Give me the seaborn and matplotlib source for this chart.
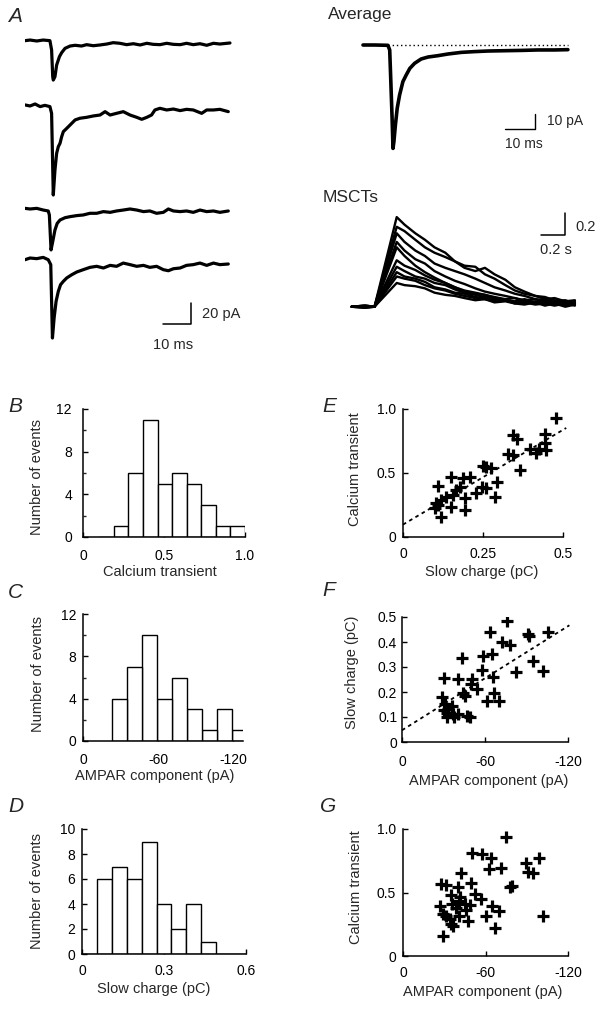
import numpy as np
import pandas as pd
import matplotlib
matplotlib.use("Agg")
import matplotlib.pyplot as plt
import seaborn as sns

# ---------------- data ----------------
# Panel A: four individual EPSCs (time ms, current pA)
tr1_t = [0, 1.8, 4.2, 6.5, 8.9, 9.5, 9.9, 10.1, 10.7, 11.3, 12.3, 13.1, 14.3, 16.1, 17.9, 20.2, 22.0, 24.4,
         26.8, 29.2, 31.5, 33.9, 36.3, 38.7, 41.1, 43.5, 45.8, 48.2, 50.6, 53.0, 55.4, 57.7, 60.1, 62.5,
         64.9, 67.3, 69.6, 73.2]
tr1_i = [0, 0.6, -0.3, 0.6, 0, -8.9, -34.3, -37.5, -34.3, -23.2, -15.2, -11.4, -7.3, -5.1, -4.4, -5.1, -3.8,
         -4.8, -4.1, -3.2, -1.9, -2.5, -3.8, -2.9, -4.1, -2.5, -3.5, -3.8, -2.5, -3.5, -3.8, -2.5, -3.8, -2.9,
         -4.4, -2.5, -3.2, -2.2]
tr2_t = [0, 1.8, 3.6, 5.4, 7.1, 8.9, 9.5, 10.1, 10.7, 11.3, 11.9, 12.5, 13.1, 13.7, 14.9, 16.1, 17.9, 19.6,
         22.0, 24.4, 26.8, 28.6, 30.4, 32.7, 35.1, 37.5, 39.9, 41.7, 43.5, 45.2, 46.4, 48.2, 50.6, 53.0,
         55.4, 57.7, 60.1, 63.1, 64.9, 67.3, 69.6, 72.6]
tr2_i = [1.0, 0, 1.9, -0.6, 0.6, -0.6, -7.0, -84.8, -61.0, -45.1, -38.7, -35.6, -29.2, -24.4, -21.3, -18.1,
         -13.3, -11.7, -10.8, -9.5, -8.6, -5.4, -8.6, -7.0, -5.4, -8.6, -10.8, -12.7, -10.8, -8.6, -3.8,
         -2.2, -3.8, -2.9, -4.4, -3.2, -3.8, -7.0, -3.8, -3.8, -3.2, -5.4]
tr3_t = [0, 1.8, 4.2, 6.5, 8.3, 8.7, 9.3, 9.9, 10.7, 11.5, 12.5, 14.3, 16.1, 18.5, 20.8, 23.2, 25.6, 28.0,
         30.4, 32.7, 35.1, 37.5, 39.9, 42.3, 44.6, 47.0, 49.4, 51.2, 53.0, 55.4, 57.7, 60.1, 62.5, 64.9,
         67.3, 69.6, 72.6]
tr3_i = [0.6, 0, 0.6, -1.0, -1.9, -5.7, -39.0, -31.1, -20.0, -13.7, -10.5, -8.3, -7.3, -6.3, -5.7, -4.1,
         -4.1, -2.5, -3.2, -1.9, -1.0, 0, -1.0, -2.5, -1.9, -4.1, -3.2, 0, -1.9, -2.5, -1.9, -3.2, -1.0,
         -2.5, -1.9, -3.2, -1.9]
tr4_t = [0, 1.8, 4.2, 6.5, 8.3, 9.2, 9.8, 10.4, 11.1, 11.9, 12.7, 13.7, 14.9, 16.7, 18.5, 20.8, 23.2, 25.6,
         28.0, 30.4, 32.7, 35.1, 37.5, 39.9, 42.3, 44.6, 47.0, 49.4, 51.2, 53.0, 55.4, 57.7, 60.1, 62.5,
         64.9, 67.3, 69.6, 72.6]
tr4_i = [-1.6, 0, -0.6, 0.6, -1.6, -6.3, -76.2, -57.1, -41.3, -31.7, -25.4, -22.2, -19.0, -15.9, -13.3,
         -11.1, -8.9, -7.9, -9.5, -7.0, -7.9, -4.8, -6.3, -7.9, -7.0, -8.9, -7.9, -11.1, -12.1, -10.2, -9.5,
         -7.0, -6.3, -4.8, -7.0, -4.8, -6.3, -5.7]

# Average EPSC
avg_t = [0, 3.9, 8.3, 8.9, 9.2, 9.7, 10.0, 10.3, 10.8, 11.4, 12.2, 13.3, 14.4, 15.6, 17.2, 19.4, 21.7,
         25.0, 28.3, 32.8, 37.2, 41.7, 47.2, 52.8, 58.3, 63.9, 68.3]
avg_i = [0, 0, -0.2, -3.3, -20.0, -48.9, -68.9, -64.4, -53.3, -42.2, -33.3, -24.4, -20.0, -15.6, -12.2,
         -9.3, -8.0, -7.1, -6.0, -4.9, -4.4, -4.0, -3.8, -3.6, -3.3, -3.3, -3.1]

# MSCTs (time s, dF/F)
msct_t = [0, 0.11, 0.19, 0.375, 0.44, 0.53, 0.61, 0.69, 0.78, 0.86, 0.94, 1.03, 1.11, 1.19, 1.28, 1.36,
          1.44, 1.53, 1.61, 1.69, 1.78, 1.86]
msct_traces = [
    [0, 0.01, 0, 0.83, 0.76, 0.68, 0.62, 0.55, 0.50, 0.42, 0.38, 0.37, 0.30, 0.26, 0.20, 0.15, 0.12, 0.10, 0.07, 0.08, 0.05, 0.06],
    [0, -0.01, 0, 0.74, 0.70, 0.62, 0.55, 0.50, 0.46, 0.42, 0.36, 0.33, 0.36, 0.30, 0.25, 0.18, 0.14, 0.10, 0.09, 0.06, 0.05, 0.04],
    [0, 0, 0, 0.68, 0.60, 0.52, 0.47, 0.40, 0.36, 0.33, 0.30, 0.26, 0.22, 0.18, 0.15, 0.12, 0.10, 0.07, 0.06, 0.05, 0.06, 0.03],
    [0, 0.01, 0, 0.60, 0.52, 0.44, 0.40, 0.33, 0.28, 0.24, 0.21, 0.17, 0.14, 0.12, 0.10, 0.08, 0.06, 0.07, 0.04, 0.05, 0.03, 0.05],
    [0, 0, 0, 0.55, 0.47, 0.38, 0.32, 0.27, 0.22, 0.18, 0.15, 0.13, 0.11, 0.09, 0.07, 0.08, 0.05, 0.04, 0.06, 0.03, 0.04, 0.02],
    [0, -0.01, 0, 0.43, 0.38, 0.34, 0.29, 0.25, 0.22, 0.18, 0.14, 0.12, 0.11, 0.08, 0.06, 0.05, 0.07, 0.04, 0.03, 0.05, 0.02, 0.04],
    [0, 0, 0, 0.37, 0.33, 0.28, 0.26, 0.22, 0.20, 0.16, 0.13, 0.11, 0.09, 0.08, 0.06, 0.04, 0.05, 0.03, 0.04, 0.02, 0.05, 0.03],
    [0, 0.01, 0, 0.32, 0.28, 0.26, 0.23, 0.18, 0.16, 0.13, 0.12, 0.09, 0.08, 0.06, 0.07, 0.04, 0.03, 0.05, 0.02, 0.04, 0.01, 0.03],
    [0, 0, 0, 0.28, 0.26, 0.24, 0.20, 0.17, 0.15, 0.12, 0.10, 0.08, 0.07, 0.05, 0.06, 0.03, 0.04, 0.02, 0.03, 0.01, 0.03, 0.01],
    [0, 0, 0, 0.22, 0.20, 0.19, 0.17, 0.13, 0.11, 0.10, 0.08, 0.06, 0.07, 0.04, 0.05, 0.03, 0.02, 0.04, 0.01, 0.03, 0.00, 0.02],
]

# Histograms (bin edges, counts)
B_edges = [0.10, 0.19, 0.28, 0.37, 0.46, 0.55, 0.64, 0.73, 0.82, 0.91, 1.00]
B_counts = [0, 1, 6, 11, 5, 6, 5, 3, 1, 1]
C_edges = [-23, -35, -47, -59, -71, -83, -95, -107, -119, -131]
C_counts = [4, 7, 10, 4, 6, 3, 1, 3, 1]
D_edges = [0.0, 0.0545, 0.109, 0.164, 0.218, 0.273, 0.327, 0.382, 0.436, 0.491, 0.545, 0.60]
D_counts = [0, 6, 7, 6, 9, 4, 2, 4, 1, 0, 0]

# Scatter E: slow charge (pC) vs calcium transient
E_x = [0.479, 0.344, 0.356, 0.443, 0.443, 0.396, 0.425, 0.417, 0.448, 0.328, 0.344, 0.365, 0.25, 0.26,
       0.276, 0.248, 0.26, 0.294, 0.286, 0.227, 0.208, 0.1875, 0.149, 0.109, 0.177, 0.167, 0.156, 0.135,
       0.12, 0.104, 0.099, 0.12, 0.151, 0.193, 0.193, 0.109]
E_y = [0.929, 0.798, 0.764, 0.806, 0.733, 0.686, 0.686, 0.66, 0.68, 0.647, 0.64, 0.524, 0.555, 0.545,
       0.537, 0.387, 0.38, 0.432, 0.309, 0.340, 0.466, 0.458, 0.471, 0.398, 0.393, 0.366, 0.332, 0.314,
       0.288, 0.267, 0.223, 0.157, 0.236, 0.306, 0.209, 0.249]
E_fit = (0.097, 1.48)          # intercept, slope
E_fit_range = (0.0, 0.51)

# Scatter F: AMPAR component (pA) vs slow charge (pC)
F_x = [-75.6, -63.6, -72, -78, -91.2, -91.7, -105.6, -43.7, -58.3, -65.3, -57.6, -94.8, -82.3, -102,
       -30.7, -40.8, -50.4, -49.7, -54, -66, -44.4, -45.6, -28.8, -66.7, -61.2, -70, -31.2, -36, -33.6,
       -30, -32.4, -37.2, -40.8, -32.4, -46.8, -49.2, -37.9]
F_y = [0.484, 0.44, 0.40, 0.39, 0.433, 0.425, 0.44, 0.337, 0.343, 0.353, 0.29, 0.324, 0.28, 0.284,
       0.257, 0.253, 0.253, 0.231, 0.213, 0.26, 0.196, 0.183, 0.18, 0.196, 0.163, 0.163, 0.153, 0.143,
       0.133, 0.127, 0.116, 0.111, 0.111, 0.10, 0.103, 0.10, 0.10]
F_fit = (0.047, -0.00347)
F_fit_range = (0.0, -121.0)

# Scatter G: AMPAR component (pA) vs calcium transient
G_x = [-75.2, -50.4, -57.7, -64.2, -62.3, -71.5, -89.7, -98.7, -90.9, -94.5, -78, -79.5, -42, -27.9,
       -31.5, -40, -49.7, -52.1, -57.0, -35.2, -41.2, -40.7, -44.8, -48.5, -46.1, -35.6, -27.2, -29.1,
       -31.5, -33.9, -35.2, -36.4, -40.7, -47.3, -60.6, -64.7, -69.5, -66.7, -101.8, -29.1, -38.8]
G_y = [0.937, 0.81, 0.803, 0.771, 0.684, 0.689, 0.732, 0.771, 0.66, 0.653, 0.542, 0.553, 0.653, 0.566,
       0.558, 0.547, 0.571, 0.487, 0.447, 0.479, 0.468, 0.434, 0.408, 0.40, 0.363, 0.413, 0.395, 0.332,
       0.318, 0.29, 0.25, 0.24, 0.318, 0.279, 0.318, 0.395, 0.355, 0.221, 0.318, 0.155, 0.379]

# ---------------- figure ----------------
sns.set_style("ticks")
plt.rcParams["font.family"] = ["Liberation Sans", "DejaVu Sans"]
plt.rcParams["axes.unicode_minus"] = False

W, H = 605, 1011
fig = plt.figure(figsize=(W / 100, H / 100), dpi=100)
fig.patch.set_facecolor("white")


def px_axes(left, top, right, bottom):
    return fig.add_axes([left / W, 1 - bottom / H, (right - left) / W, (bottom - top) / H])


def ftext(px, py, s, **kw):
    fig.text(px / W, 1 - py / H, s, **kw)


def line(ax, x, y, lw=2.0, **kw):
    df = pd.DataFrame({"x": x, "y": y})
    sns.lineplot(data=df, x="x", y="y", ax=ax, color="black", lw=lw, sort=False,
                 estimator=None, legend=False, **kw)


# ---- Panel A individual traces ----
axA = px_axes(25, 35, 245, 355)
axA.set_xlim(0, 220 / 2.8)
axA.set_ylim(-320 / 1.05, 0)
offsets = [-5.4, -67.6, -165.7, -212.4]
for (t, i), off in zip([(tr1_t, tr1_i), (tr2_t, tr2_i), (tr3_t, tr3_i), (tr4_t, tr4_i)], offsets):
    line(axA, t, np.asarray(i) + off, lw=2.3)
axA.axis("off")
sb_ms, sb_pA = 10, 20
axA.plot([59.2 - sb_ms, 59.2, 59.2], [-275.2, -275.2, -275.2 + sb_pA], color="black", lw=1.1)
axA.text(63.2, -265.7, "20 pA", fontsize=10.5, ha="left", va="center")
axA.text(53.0, -295.2, "10 ms", fontsize=10.5, ha="center", va="center")

# ---- Average ----
axAv = px_axes(360, 38, 600, 155)
axAv.set_xlim(-1, 79)
axAv.set_ylim(-73.3, 4.67)
line(axAv, avg_t, avg_i, lw=2.6)
axAv.plot([8.4, 68.3], [0, 0], color="black", lw=1.0, ls=(0, (1, 2)))
axAv.axis("off")
axAv.plot([57.3 - 10, 57.3, 57.3], [-56, -56, -46], color="black", lw=1.0)
axAv.text(61.3, -50.7, "10 pA", fontsize=10, ha="left", va="center")
axAv.text(53.7, -66.0, "10 ms", fontsize=10, ha="center", va="center")

# ---- MSCTs ----
axM = px_axes(345, 205, 600, 320)
axM.set_xlim(-0.056, 2.069)
axM.set_ylim(-0.123, 0.942)
for tr in msct_traces:
    line(axM, msct_t, tr, lw=1.7)
axM.axis("off")
axM.plot([1.578, 1.778, 1.778], [0.664, 0.664, 0.864], color="black", lw=1.1)
axM.text(1.861, 0.738, "0.2", fontsize=10.5, ha="left", va="center")
axM.text(1.70, 0.525, "0.2 s", fontsize=10.5, ha="center", va="center")

ftext(328, 14, "Average", fontsize=12.5, ha="left", va="center")
ftext(323, 197, "MSCTs", fontsize=12.5, ha="left", va="center")


# ---- helpers for lower panels ----
def style(ax, xpad, ypad):
    sns.despine(ax=ax)
    for s in ("left", "bottom"):
        ax.spines[s].set_linewidth(1.1)
        ax.spines[s].set_color("black")
    ax.tick_params(axis="both", direction="in", length=3.5, width=1.0, labelsize=10, colors="black")
    ax.tick_params(axis="x", pad=xpad)
    ax.tick_params(axis="y", pad=ypad)
    ax.set_facecolor("none")


def hist(ax, edges, counts):
    edges = np.asarray(edges, float)
    df = pd.DataFrame({"c": (edges[:-1] + edges[1:]) / 2, "w": np.asarray(counts, float)})
    bins = [float(b) for b in np.sort(edges)]
    try:
        sns.histplot(data=df, x="c", weights="w", bins=bins, ax=ax, color="white",
                     edgecolor="black", linewidth=1.0, alpha=1, legend=False)
    except Exception:
        ax.bar(edges[:-1], counts, width=np.diff(edges), align="edge", color="white",
               edgecolor="black", linewidth=1.0)


def scatter(ax, x, y):
    df = pd.DataFrame({"x": x, "y": y})
    sns.scatterplot(data=df, x="x", y="y", ax=ax, marker="+", s=80, color="black",
                    linewidth=2.3, legend=False)


lab_fs = 10.5

# B
axB = px_axes(83, 409, 245, 537)
hist(axB, B_edges, B_counts)
axB.set_xlim(0, 1.0); axB.set_ylim(0, 12)
axB.set_xticks([0, 0.5, 1.0]); axB.set_xticklabels(["0", "0.5", "1.0"])
axB.set_yticks([0, 4, 8, 12]); axB.set_yticklabels(["0", "4", "8", "12"])
axB.set_yticks([2, 6, 10], minor=True)
style(axB, 9, 8)
axB.tick_params(which="minor", direction="in", length=2.5, width=1.0)
axB.set_xlabel("Calcium transient", fontsize=lab_fs)
axB.set_ylabel("Number of events", fontsize=lab_fs)
axB.xaxis.set_label_coords(0.475, -0.215)
axB.yaxis.set_label_coords(-0.238, 0.47)

# C
axC = px_axes(83, 614, 243, 741)
hist(axC, C_edges, C_counts)
axC.set_xlim(0, -128); axC.set_ylim(0, 12)
axC.set_xticks([0, -60, -120]); axC.set_xticklabels(["0", "-60", "-120"])
axC.set_yticks([0, 4, 8, 12]); axC.set_yticklabels(["0", "4", "8", "12"])
axC.set_yticks([2, 6, 10], minor=True)
style(axC, 9, 5)
axC.tick_params(which="minor", direction="in", length=2.5, width=1.0)
axC.set_xlabel("AMPAR component (pA)", fontsize=lab_fs)
axC.set_ylabel("Number of events", fontsize=lab_fs)
axC.xaxis.set_label_coords(0.45, -0.22)
axC.yaxis.set_label_coords(-0.24, 0.53)

# D
axD = px_axes(82, 829, 246, 954)
hist(axD, D_edges, D_counts)
axD.set_xlim(0, 0.6); axD.set_ylim(0, 10)
axD.set_xticks([0, 0.3, 0.6]); axD.set_xticklabels(["0", "0.3", "0.6"])
axD.set_yticks([0, 2, 4, 6, 8, 10]); axD.set_yticklabels(["0", "2", "4", "6", "8", "10"])
style(axD, 7.5, 5)
axD.set_xlabel("Slow charge (pC)", fontsize=lab_fs)
axD.set_ylabel("Number of events", fontsize=lab_fs)
axD.xaxis.set_label_coords(0.44, -0.222)
axD.yaxis.set_label_coords(-0.229, 0.506)

# E
axE = px_axes(403, 409, 563, 537)
scatter(axE, E_x, E_y)
xs = np.array(E_fit_range)
axE.plot(xs, E_fit[0] + E_fit[1] * xs, color="black", lw=1.3, ls=(0, (2, 2)), clip_on=False)
axE.set_xlim(0, 0.5); axE.set_ylim(0, 1.0)
axE.set_xticks([0, 0.25, 0.5]); axE.set_xticklabels(["0", "0.25", "0.5"])
axE.set_yticks([0, 0.5, 1.0]); axE.set_yticklabels(["0", "0.5", "1.0"])
style(axE, 7, 5)
axE.set_xlabel("Slow charge (pC)", fontsize=lab_fs)
axE.set_ylabel("Calcium transient", fontsize=lab_fs)
axE.xaxis.set_label_coords(0.49, -0.222)
axE.yaxis.set_label_coords(-0.258, 0.53)

# F
axF = px_axes(402, 617, 568, 742)
scatter(axF, F_x, F_y)
xs = np.array(F_fit_range)
axF.plot(xs, F_fit[0] + F_fit[1] * xs, color="black", lw=1.3, ls=(0, (2, 2)), clip_on=False)
axF.set_xlim(0, -120); axF.set_ylim(0, 0.5)
axF.set_xticks([0, -60, -120]); axF.set_xticklabels(["0", "-60", "-120"])
axF.set_yticks([0, 0.1, 0.2, 0.3, 0.4, 0.5]); axF.set_yticklabels(["0", "0.1", "0.2", "0.3", "0.4", "0.5"])
style(axF, 9.5, 3.5)
axF.set_xlabel("AMPAR component (pA)", fontsize=lab_fs)
axF.set_ylabel("Slow charge (pC)", fontsize=lab_fs)
axF.xaxis.set_label_coords(0.52, -0.254)
axF.yaxis.set_label_coords(-0.258, 0.56)

# G
axG = px_axes(403, 829, 568, 956)
scatter(axG, G_x, G_y)
axG.set_xlim(0, -120); axG.set_ylim(0, 1.0)
axG.set_xticks([0, -60, -120]); axG.set_xticklabels(["0", "-60", "-120"])
axG.set_yticks([0, 0.5, 1.0]); axG.set_yticklabels(["0", "0.5", "1.0"])
style(axG, 7.5, 5)
axG.set_xlabel("AMPAR component (pA)", fontsize=lab_fs)
axG.set_ylabel("Calcium transient", fontsize=lab_fs)
axG.xaxis.set_label_coords(0.48, -0.227)
axG.yaxis.set_label_coords(-0.24, 0.54)

# panel letters
for lbl, px, py in [("A", 15, 17), ("B", 15, 406), ("C", 15, 592), ("D", 16, 807),
                    ("E", 329, 407), ("F", 329, 591), ("G", 328, 806)]:
    ftext(px, py, lbl, fontsize=15, style="italic", ha="center", va="center")

fig.savefig("out.png", dpi=100, facecolor="white")
